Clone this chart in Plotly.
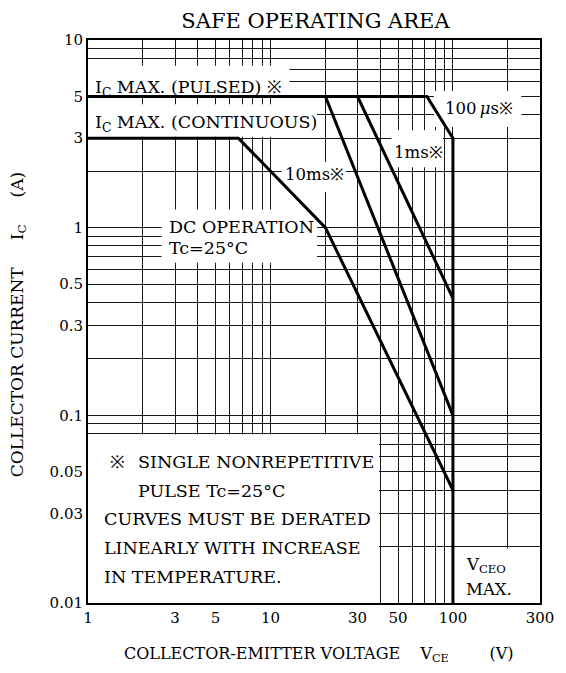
import plotly.graph_objects as go

# axis ticks (log-log)
X_TICKS = [1, 3, 5, 10, 30, 50, 100, 300]
X_MINOR = [2, 4, 6, 7, 8, 9, 20, 40, 60, 70, 80, 90, 200]
Y_TICKS = [0.01, 0.03, 0.05, 0.1, 0.3, 0.5, 1, 3, 5, 10]
Y_TICK_TEXT = ["0.01", "0.03", "0.05", "0.1", "0.3", "0.5", "1", "3", "5", "10"]
Y_MINOR = [0.02, 0.04, 0.06, 0.07, 0.08, 0.09, 0.2, 0.4, 0.6, 0.7, 0.8, 0.9,
           2, 4, 6, 7, 8, 9]

# SOA boundaries, V_CE (V) vs I_C (A)
PULSED_V = [1, 72, 100, 100]          # Ic max pulsed -> 100us -> Vceo max
PULSED_I = [5, 5, 3, 0.01]
MS1_V = [30, 100]
MS1_I = [5, 0.42]
MS10_V = [20, 100]
MS10_I = [5, 0.1]
DC_V = [1, 6.67, 20, 100]
DC_I = [3, 3, 1, 0.04]

FONT = "DejaVu Serif"
INK = "black"
GRID = "#1a1a1a"
NB = "\u00a0"

fig = go.Figure()
for xs, ys in [(PULSED_V, PULSED_I), (MS1_V, MS1_I), (MS10_V, MS10_I), (DC_V, DC_I)]:
    fig.add_trace(go.Scatter(x=xs, y=ys, mode="lines",
                             line=dict(color=INK, width=3), showlegend=False,
                             hoverinfo="skip"))

# white patches behind the labels, cutting the grid like the datasheet does
masks = [
    (1, 12.7, 5.1, 7.3),        # pulsed label
    (1, 18, 3.05, 4.55),        # continuous label
    (78.6, 237, 3.44, 5.35),    # 100us
    (46, 88, 2.1, 3.3),         # 1ms
    (11.5, 25.8, 1.55, 2.24),   # 10ms
    (2.53, 18, 0.65, 1.25),     # dc operation
    (1, 39.3, 0.01, 0.079),     # notes
    (106, 289, 0.01, 0.0195),   # vceo max
]
for x0, x1, y0, y1 in masks:
    fig.add_shape(type="rect", xref="x", yref="y", x0=x0, x1=x1, y0=y0, y1=y1,
                  fillcolor="white", line=dict(width=0), layer="between")

big = dict(font=dict(family=FONT, size=17.5, color=INK), showarrow=False,
           xref="x", yref="y", yanchor="middle")
small = dict(font=dict(family=FONT, size=16.5, color=INK), showarrow=False,
             xref="x", yref="y", yanchor="middle")
fig.add_annotation(x=0.03, y=0.744, text="I<sub>C</sub> MAX. (PULSED) ※", xanchor="left", **big)
fig.add_annotation(x=0.03, y=0.553, text="I<sub>C</sub> MAX. (CONTINUOUS)", xanchor="left", **big)
fig.add_annotation(x=1.244, y=0.282, text="10ms※", xanchor="center", **small)
fig.add_annotation(x=1.809, y=0.399, text="1ms※", xanchor="center", **small)
fig.add_annotation(x=2.143, y=0.633, text="100\u2009<i>μ</i>s※", xanchor="center", **small)
fig.add_annotation(x=0.435, y=0.005, text="DC OPERATION", xanchor="left", **big)
fig.add_annotation(x=0.435, y=-0.106, text="Tc=25°C", xanchor="left", **big)

notes = [
    (0.11, -1.25, "※"),
    (0.265, -1.25, "SINGLE NONREPETITIVE"),
    (0.265, -1.404, "PULSE Tc=25°C"),
    (0.075, -1.553, "CURVES MUST BE DERATED"),
    (0.075, -1.707, "LINEARLY WITH INCREASE"),
    (0.075, -1.862, "IN TEMPERATURE."),
]
for nx, ny, txt in notes:
    fig.add_annotation(x=nx, y=ny, text=txt, xanchor="left", **big)

fig.add_annotation(x=2.062, y=-1.8, text="V<sub>CEO</sub>", xanchor="left", **small)
fig.add_annotation(x=2.062, y=-1.93, text="MAX.", xanchor="left", **small)

# axis titles
fig.add_annotation(x=0.51, y=-0.0906, xref="paper", yref="paper", showarrow=False,
                   xanchor="center", yanchor="middle",
                   text="COLLECTOR-EMITTER VOLTAGE" + NB * 4 + "V<sub>CE</sub>" + NB * 8 + "(V)",
                   font=dict(family=FONT, size=16, color=INK))
fig.add_annotation(x=-0.154, y=0.494, xref="paper", yref="paper", showarrow=False,
                   textangle=-90, xanchor="center", yanchor="middle",
                   text="COLLECTOR CURRENT" + NB * 5 + "I<sub>C</sub>" + NB * 5 + "(A)",
                   font=dict(family=FONT, size=17, color=INK))

axis_common = dict(type="log", showline=True, mirror=True, linecolor=INK,
                   linewidth=2, showgrid=True, gridcolor=GRID, gridwidth=1,
                   ticks="", zeroline=False,
                   tickfont=dict(family=FONT, size=15, color=INK))
fig.update_xaxes(range=[0, 2.4771], tickvals=X_TICKS,
                 ticktext=[str(v) for v in X_TICKS],
                 minor=dict(tickvals=X_MINOR, showgrid=True, gridcolor=GRID,
                            gridwidth=1, ticks=""),
                 **axis_common)
fig.update_yaxes(range=[-2, 1], tickvals=Y_TICKS, ticktext=Y_TICK_TEXT,
                 minor=dict(tickvals=Y_MINOR, showgrid=True, gridcolor=GRID,
                            gridwidth=1, ticks=""),
                 **axis_common)

# the page body adds 8px, so the figure is 8px smaller on each side
fig.update_layout(
    width=558, height=657,
    margin=dict(l=80, r=18, t=32, b=62),
    paper_bgcolor="white", plot_bgcolor="white",
    title=dict(text="SAFE OPERATING AREA", x=0.551, xanchor="center",
               y=0.9805, yanchor="middle",
               font=dict(family=FONT, size=21, color=INK)),
)

fig.write_html("out.html")
